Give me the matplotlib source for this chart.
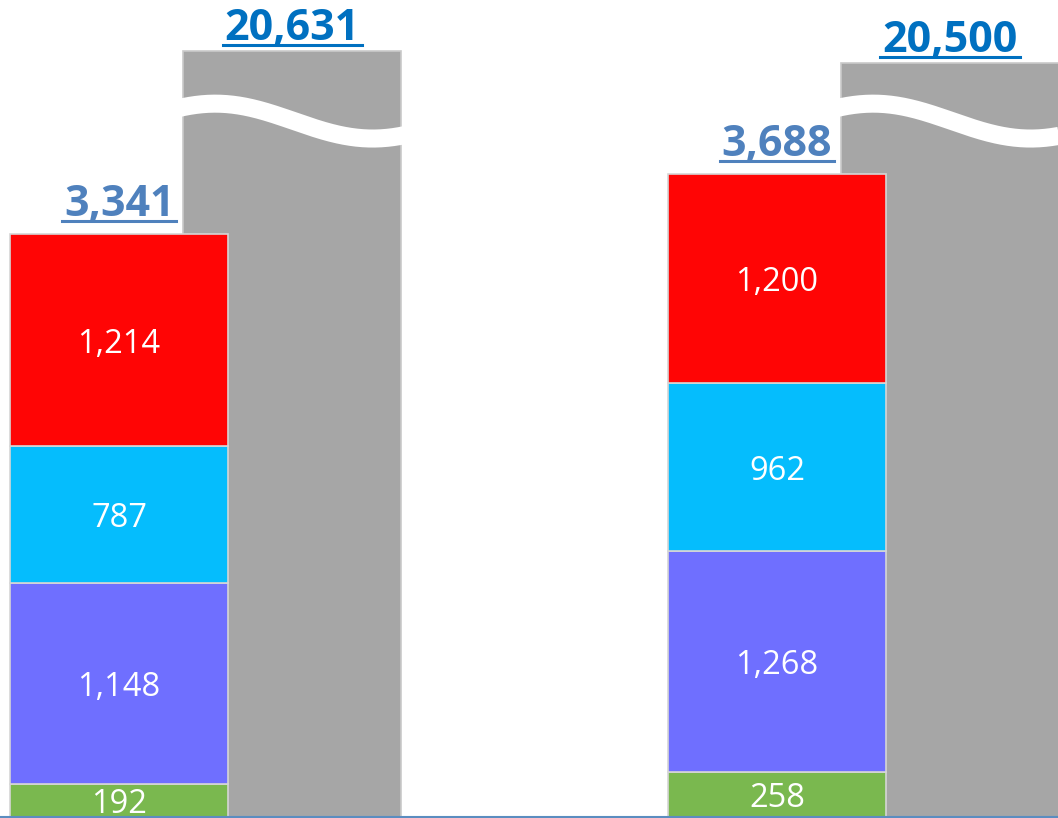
import matplotlib.pyplot as plt
from matplotlib.lines import Line2D
import numpy as np

plt.rcParams['font.family'] = ['Open Sans', 'DejaVu Sans']

groups = ['left', 'right']
green = [192, 258]
purple = [1148, 1268]
cyan = [787, 962]
red = [1214, 1200]
gray_totals = [20631, 20500]

seg_values = [green, purple, cyan, red]
seg_colors = ['#7AB84F', '#6F6FFF', '#05BDFD', '#FF0505']

# broken axis: gray bars are squeezed above the break
BREAK_VALUE = 20000
BREAK_DISPLAY = 4075
BREAK_SCALE = 0.5
WAVE_LEVEL = 3990

def to_display(v):
    return BREAK_DISPLAY + (v - BREAK_VALUE) * BREAK_SCALE

fig = plt.figure(figsize=(10.58, 8.18), dpi=100)
ax = fig.add_axes([0, 0, 1, 1])
ax.axis('off')

x = np.arange(len(groups))
width = 0.331
gray_off = 0.263
px = 1 / 658  # one pixel in x data units

gray_disp = [to_display(v) for v in gray_totals]
ax.bar(x + gray_off, gray_disp, width, color='#A6A6A6', edgecolor='#C9C9C9',
       linewidth=1.2, zorder=1)

# white wave marking the break
for xi in x + gray_off:
    left = xi - width / 2
    xs = np.linspace(left - 0.02, left + width + 0.02, 200)
    ys = WAVE_LEVEL + 100 * np.cos(2 * np.pi * (xs - (left + 32 * px)) / (315 * px))
    ax.plot(xs, ys, color='white', lw=13, solid_capstyle='butt', zorder=2)

bottom = np.zeros(len(groups))
for vals, col in zip(seg_values, seg_colors):
    ax.bar(x, vals, width, bottom=bottom, color=col, edgecolor='#D6D6D6',
           linewidth=1.2, zorder=3)
    for xi, b, v in zip(x, bottom, vals):
        ax.annotate(f'{v:,}', (xi, b + v / 2), xytext=(0, -9), textcoords='offset points',
                    ha='center', va='baseline', color='white', fontsize=23.5,
                    zorder=5, annotation_clip=False)
    bottom += vals

stack_totals = bottom

ax.set_xlim(-0.181, 1.427)
ax.set_ylim(-4, 4684)
ax.axhline(0, color='#5B8DC0', lw=1.5, zorder=6)

labels = []
for xi, t in zip(x, stack_totals):
    a = ax.annotate(f'{int(t):,}', (xi, t), xytext=(0, 13), textcoords='offset points',
                    ha='center', va='baseline', fontsize=31, fontweight='bold',
                    color='#4F81BD', zorder=6)
    labels.append((a, 13, '#4F81BD'))
for xi, t, d in zip(x + gray_off, gray_totals, gray_disp):
    a = ax.annotate(f'{t:,}', (xi, d), xytext=(0, 8), textcoords='offset points',
                    ha='center', va='baseline', fontsize=31, fontweight='bold',
                    color='#0070C0', zorder=6)
    labels.append((a, 8, '#0070C0'))

# underline the totals
fig.canvas.draw()
r = fig.canvas.get_renderer()
inv = fig.transFigure.inverted()
for a, off, col in labels:
    bb = a.get_window_extent(r)
    base_y = ax.transData.transform(a.xy)[1] + off * fig.dpi / 72
    uy = base_y - 5
    p0 = inv.transform((bb.x0 - 2, uy))
    p1 = inv.transform((bb.x1 + 2, uy))
    fig.add_artist(Line2D([p0[0], p1[0]], [p0[1], p1[1]], color=col, lw=2.2))

fig.savefig('out.png', dpi=100)
